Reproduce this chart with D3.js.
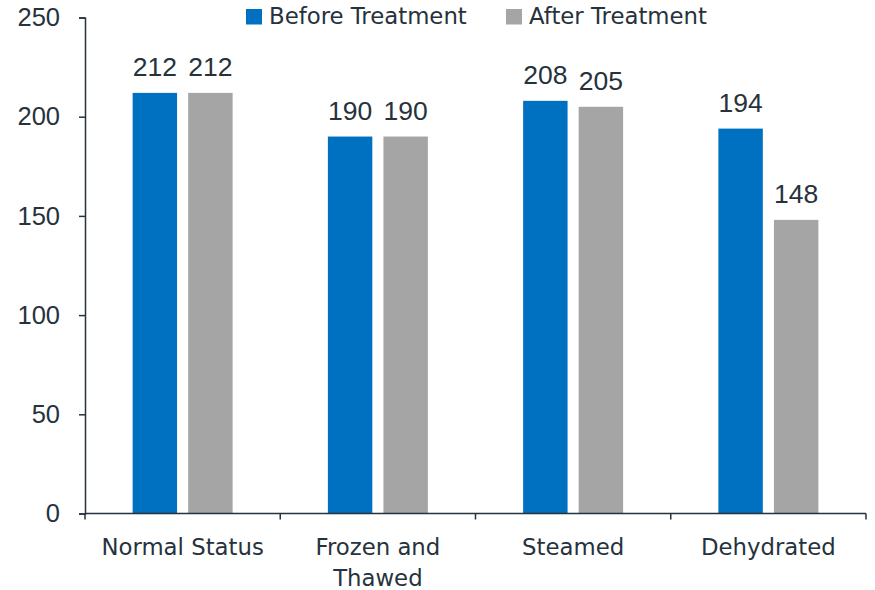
<!DOCTYPE html>
<html>
<head>
<meta charset="utf-8">
<script src="https://cdn.jsdelivr.net/npm/d3@7"></script>
<style>
  body { margin: 0; background: #fff; }
  text { fill: #26323c; }
  .num { font-family: "Liberation Sans", Arial, sans-serif; }
  .word { font-family: "DejaVu Sans", sans-serif; }
</style>
</head>
<body>
<div id="vis"></div>
<script>
var width = 875;
var height = 590;

var margin = {top: 17.5, right: 9, bottom: 76.5, left: 85};

var categories = ["Normal Status", "Frozen and Thawed", "Steamed", "Dehydrated"];
var category_lines = [["Normal Status"], ["Frozen and", "Thawed"], ["Steamed"], ["Dehydrated"]];
var series = ["Before Treatment", "After Treatment"];
var before_values = [212, 190, 208, 194];
var after_values = [212, 190, 205, 148];
var y_ticks = [0, 50, 100, 150, 200, 250];
var colors = ["#0070C0", "#A5A5A5"];
var axis_color = "#26323c";
var word_size = "22.8px";

var data = categories.map(function(c, i){
  return {key: c, lines: category_lines[i], values: [before_values[i], after_values[i]]};
});

var svg = d3.select("#vis").append("svg")
  .attr("width", width)
  .attr("height", height);

var x0 = d3.scaleBand()
  .domain(categories)
  .range([margin.left, width - margin.right])
  .padding(0);

var bw = x0.bandwidth();
var x1 = d3.scaleBand()
  .domain(series)
  .range([bw / 2 - 50, bw / 2 + 50])
  .paddingInner(0.2);

var y = d3.scaleLinear()
  .domain([0, 250])
  .range([height - margin.bottom, margin.top]);

// y axis
var y_axis = svg.append("g")
  .attr("transform", "translate(" + margin.left + ",0)")
  .call(d3.axisLeft(y).tickValues(y_ticks).tickSize(6).tickPadding(19));
y_axis.select(".domain").attr("stroke", axis_color).attr("stroke-width", 1.5);
y_axis.selectAll(".tick line").attr("stroke", axis_color).attr("stroke-width", 1.5);
y_axis.selectAll(".tick text")
  .attr("class", "num")
  .attr("font-family", null)
  .style("font-size", "25.5px")
  .attr("fill", axis_color);

// bars
var groups = svg.selectAll(".group")
  .data(data)
  .enter().append("g")
  .attr("class", "group")
  .attr("transform", d => "translate(" + x0(d.key) + ",0)");

groups.selectAll("rect")
  .data(d => d.values.map((v, i) => ({s: series[i], v: v, i: i})))
  .enter().append("rect")
  .attr("x", d => x1(d.s))
  .attr("y", d => y(d.v))
  .attr("width", x1.bandwidth())
  .attr("height", d => y(0) - y(d.v))
  .attr("fill", d => colors[d.i]);

groups.selectAll(".val")
  .data(d => d.values.map((v, i) => ({s: series[i], v: v})))
  .enter().append("text")
  .attr("class", "val num")
  .attr("x", d => x1(d.s) + x1.bandwidth() / 2)
  .attr("y", d => y(d.v) - 16.5)
  .attr("text-anchor", "middle")
  .style("font-size", "26.5px")
  .text(d => d.v);

// x axis
var x_axis = svg.append("g")
  .attr("transform", "translate(0," + y(0) + ")");
x_axis.append("line")
  .attr("x1", x0.range()[0]).attr("x2", x0.range()[1])
  .attr("stroke", axis_color).attr("stroke-width", 1.5);
var bounds = categories.map(c => x0(c)).concat([x0.range()[1]]);
x_axis.selectAll(".xtick")
  .data(bounds)
  .enter().append("line")
  .attr("x1", d => d).attr("x2", d => d)
  .attr("y1", 0).attr("y2", 6)
  .attr("stroke", axis_color).attr("stroke-width", 1.5);

var labels = x_axis.selectAll(".xlabel")
  .data(data)
  .enter().append("text")
  .attr("class", "xlabel word")
  .attr("text-anchor", "middle")
  .attr("x", d => x0(d.key) + bw / 2)
  .attr("y", 41.7)
  .style("font-size", word_size);
labels.selectAll("tspan")
  .data(d => d.lines)
  .enter().append("tspan")
  .attr("x", function(){ return d3.select(this.parentNode).attr("x"); })
  .attr("dy", (d, i) => i === 0 ? 0 : 30.5)
  .text(d => d);

// legend
var legend_x = [246, 506];
var legend = svg.selectAll(".legend")
  .data(series)
  .enter().append("g")
  .attr("class", "legend")
  .attr("transform", (d, i) => "translate(" + legend_x[i] + ",9)");
legend.append("rect")
  .attr("width", 16).attr("height", 15.5)
  .attr("fill", (d, i) => colors[i]);
legend.append("text")
  .attr("class", "word")
  .attr("x", 23)
  .attr("y", 15.3)
  .style("font-size", word_size)
  .text(d => d);
</script>
</body>
</html>
